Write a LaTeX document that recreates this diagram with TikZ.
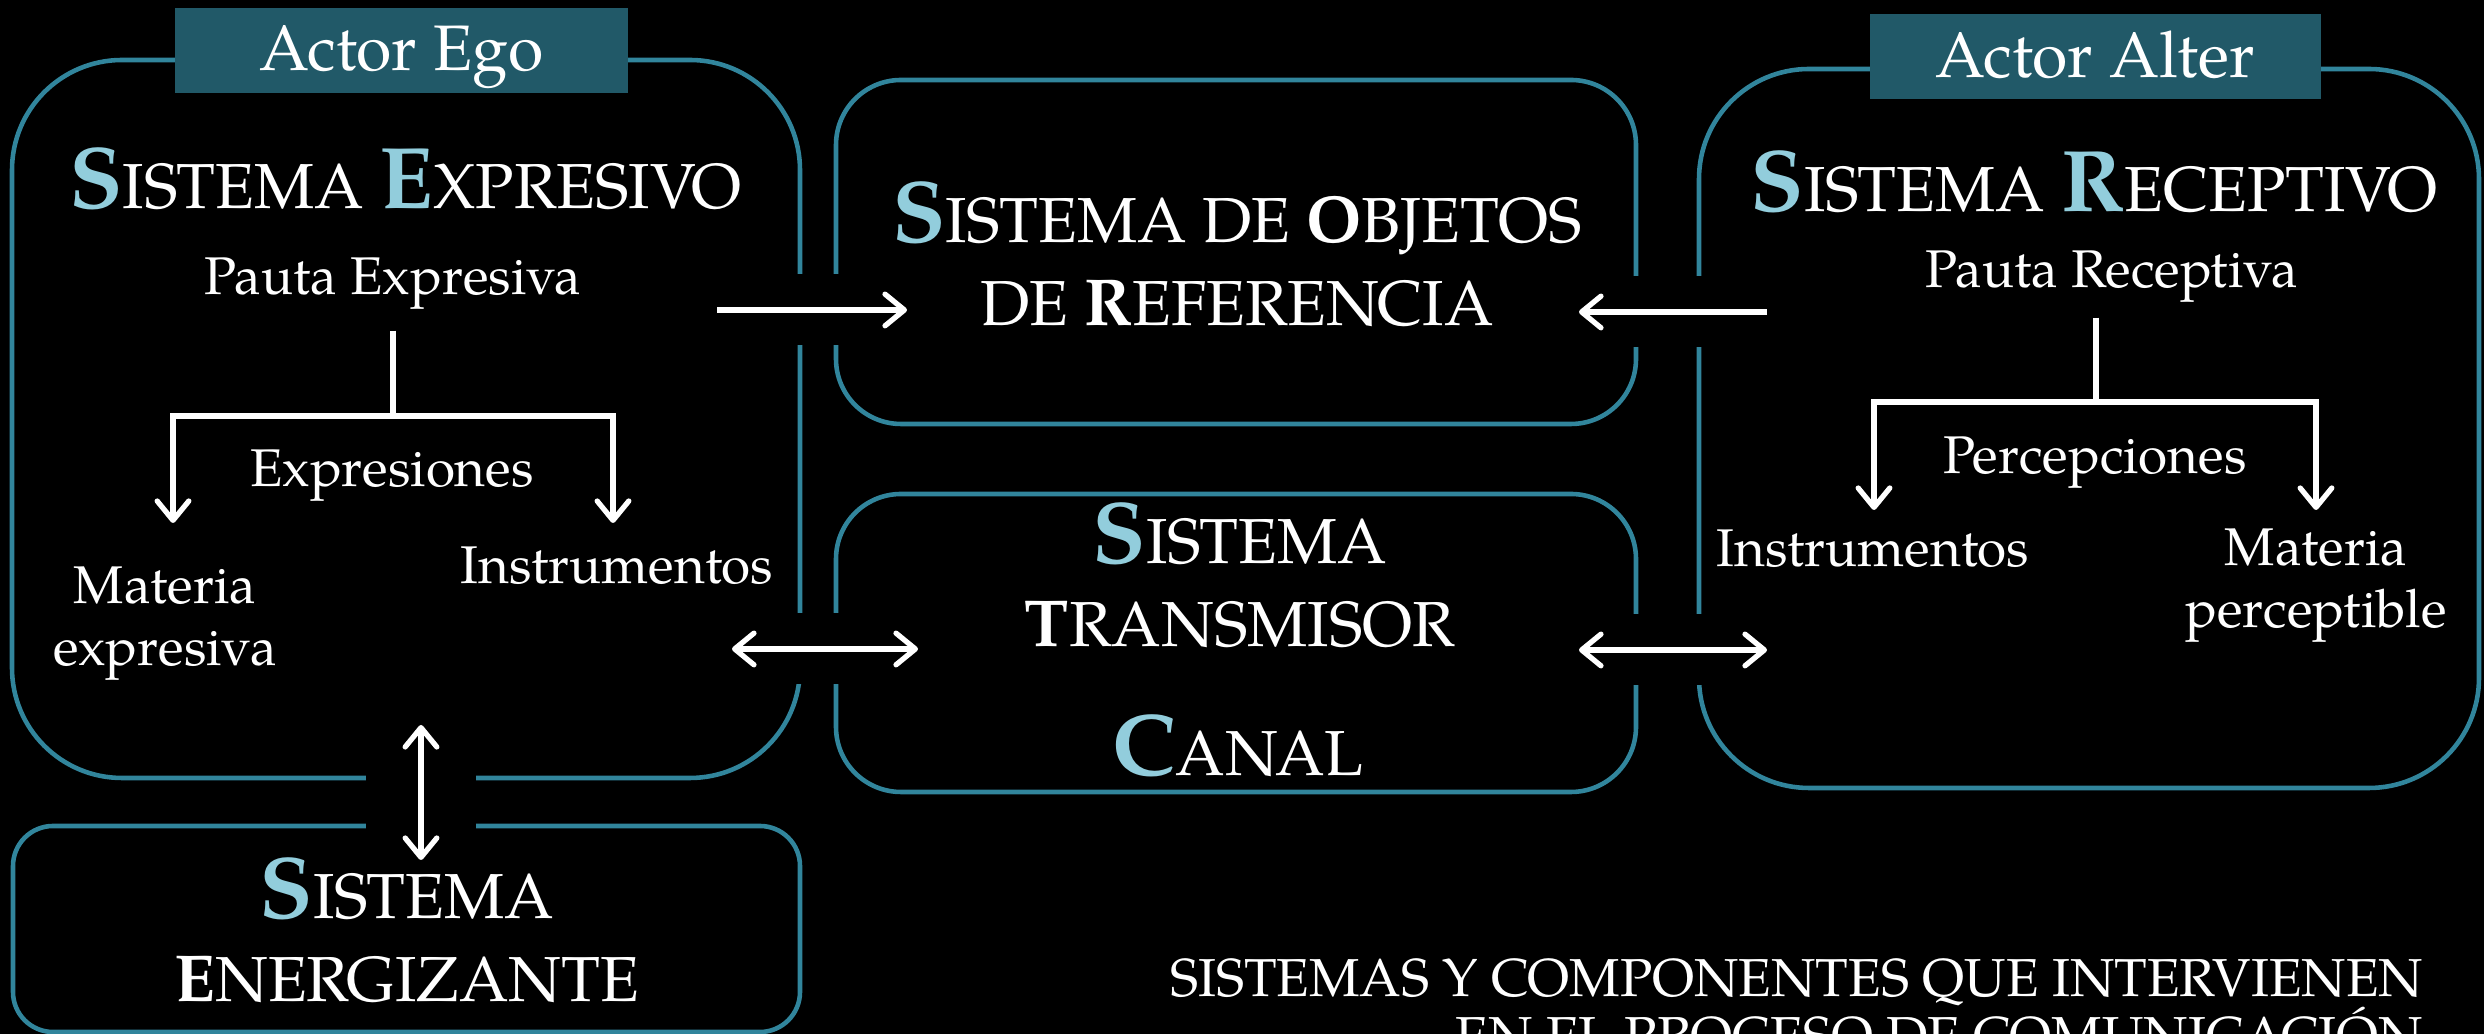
\documentclass[tikz,border=0pt]{standalone}
\usepackage{fontspec}
\setmainfont{TeX Gyre Pagella}
\usepackage{tikz}
\usetikzlibrary{arrows.meta, positioning, calc}
\definecolor{aqualine}{HTML}{31859C}
\definecolor{tabfill}{HTML}{215968}
\definecolor{capblue}{HTML}{92CDDC}
\newcommand{\sysinit}[1]{{\fontsize{24.9}{24.9}\selectfont\bfseries\color{capblue}#1}}
\newcommand{\sysbold}[1]{{\fontsize{18.9}{18.9}\selectfont\bfseries #1}}
\tikzset{
    sysbox/.style={
        rectangle,
        rounded corners=#1,
        draw=aqualine,
        line width=1.3pt,
        inner sep=0pt
    },
    sysbox/.default=0.65cm,
    actortab/.style={
        rectangle,
        fill=tabfill,
        text=white,
        inner sep=0pt,
        minimum height=0.85cm,
        text height=0.5cm,
        text depth=0.09cm,
        font=\fontsize{18.3}{20}\selectfont
    },
    systext/.style={
        text=white,
        inner sep=0pt,
        align=center,
        font=\fontsize{18.1}{23.6}\selectfont
    },
    itemtext/.style={
        text=white,
        inner sep=0pt,
        align=center,
        font=\fontsize{15.1}{17.6}\selectfont
    },
    captext/.style={
        text=white,
        inner sep=0pt,
        align=right,
        font=\fontsize{15.2}{16.5}\selectfont
    },
    wire/.style={
        draw=white,
        line width=1.5pt
    },
    arrow/.style={
        wire,
        -{Straight Barb[round, length=5.5pt, width=9pt]}
    },
    darrow/.style={
        wire,
        {Straight Barb[round, length=5.5pt, width=9pt]}-{Straight Barb[round, length=5.5pt, width=9pt]}
    },
    cutout/.style={
        preaction={draw=black, line width=#1, -, shorten <=0.2cm, shorten >=0.2cm}
    },
}

\begin{document}
\begin{tikzpicture}

\path[use as bounding box, fill=black] (0,0) rectangle (24.84,10.34);

% Actor Ego
\node[sysbox=1.1cm, minimum width=7.88cm, minimum height=7.18cm] (ego) at (4.06,6.15) {};
\node[actortab, minimum width=4.53cm] (egoTab) at (4.015,9.835) {Actor Ego};
\node[systext, anchor=base] (egoTitle) at (4.055,8.25) {\sysinit{S}ISTEMA \sysinit{E}XPRESIVO};
\node[itemtext, anchor=base] (pautaE) at (3.93,7.39) {Pauta Expresiva};
\node[itemtext, anchor=base] (expresiones) at (3.92,5.47) {Expresiones};
\node[itemtext] (materiaE) at (1.65,4.10) {Materia\\expresiva};
\node[itemtext, anchor=base] (instrE) at (6.17,4.50) {Instrumentos};

% Sistema de objetos de referencia
\node[sysbox, minimum width=8cm, minimum height=3.44cm] (objetos) at (12.36,7.82) {};
\node[systext] (objTitle) at (12.37,7.80) {\sysinit{S}ISTEMA DE \sysbold{O}BJETOS\\DE \sysbold{R}EFERENCIA};

% Sistema transmisor
\node[sysbox, minimum width=8cm, minimum height=2.98cm] (transmisor) at (12.36,3.91) {};
\node[systext] (transTitle) at (12.40,4.59) {\sysinit{S}ISTEMA\\\sysbold{T}RANSMISOR};
\node[systext, anchor=base] (canal) at (12.38,2.58) {\sysinit{C}ANAL};

% Actor Alter
\node[sysbox=1.1cm, minimum width=7.80cm, minimum height=7.19cm] (alter) at (20.89,6.055) {};
\node[actortab, minimum width=4.51cm] (alterTab) at (20.955,9.77) {Actor Alter};
\node[systext, anchor=base] (alterTitle) at (20.94,8.22) {\sysinit{S}ISTEMA \sysinit{R}ECEPTIVO};
\node[itemtext, anchor=base] (pautaR) at (21.12,7.46) {Pauta Receptiva};
\node[itemtext, anchor=base] (percepciones) at (20.95,5.60) {Percepciones};
\node[itemtext, anchor=base] (instrR) at (18.73,4.67) {Instrumentos};
\node[itemtext] (materiaR) at (23.16,4.48) {Materia\\perceptible};

% Sistema energizante
\node[sysbox=0.4cm, minimum width=7.87cm, minimum height=2.06cm] (energizante) at (4.065,1.05) {};
\node[systext] (energTitle) at (4.07,1.035) {\sysinit{S}ISTEMA\\\sysbold{E}NERGIZANTE};

% Caption
\node[captext, anchor=north east] (caption) at (24.24,0.76) {SISTEMAS Y COMPONENTES QUE INTERVIENEN\\EN EL PROCESO DE COMUNICACIÓN};

% Arrow ends
\coordinate (egoFork) at (3.93,6.18);
\coordinate (egoLeft) at (1.73,5.11);
\coordinate (egoRight) at (6.13,5.11);
\coordinate (alterFork) at (20.96,6.32);
\coordinate (alterLeft) at (18.74,5.24);
\coordinate (alterRight) at (23.16,5.24);
\coordinate (egoOut) at (7.17,7.24);
\coordinate (objInL) at (9.07,7.24);
\coordinate (alterOut) at (17.67,7.22);
\coordinate (objInR) at (15.79,7.22);
\coordinate (transL1) at (7.32,3.85);
\coordinate (transL2) at (9.18,3.85);
\coordinate (transR1) at (15.79,3.84);
\coordinate (transR2) at (17.67,3.84);
\coordinate (energTop) at (4.21,3.09);
\coordinate (energBot) at (4.21,1.74);

% Trees
\draw[wire] ([yshift=-0.2cm]pautaE.south) -- (egoFork);
\draw[arrow] (egoFork) -| (egoLeft);
\draw[arrow] (egoFork) -| (egoRight);
\draw[wire] ([yshift=-0.14cm]pautaR.south -| alterFork) -- (alterFork);
\draw[arrow] (alterFork) -| (alterLeft);
\draw[arrow] (alterFork) -| (alterRight);

% Arrows between systems
\draw[arrow, cutout=0.71cm] (egoOut) -- (objInL);
\draw[arrow, cutout=0.71cm] (alterOut) -- (objInR);
\draw[darrow, cutout=0.71cm] (transL1) -- (transL2);
\draw[darrow, cutout=0.71cm] (transR1) -- (transR2);
\draw[darrow, cutout=1.10cm] (energTop) -- (energBot);

\end{tikzpicture}
\end{document}
